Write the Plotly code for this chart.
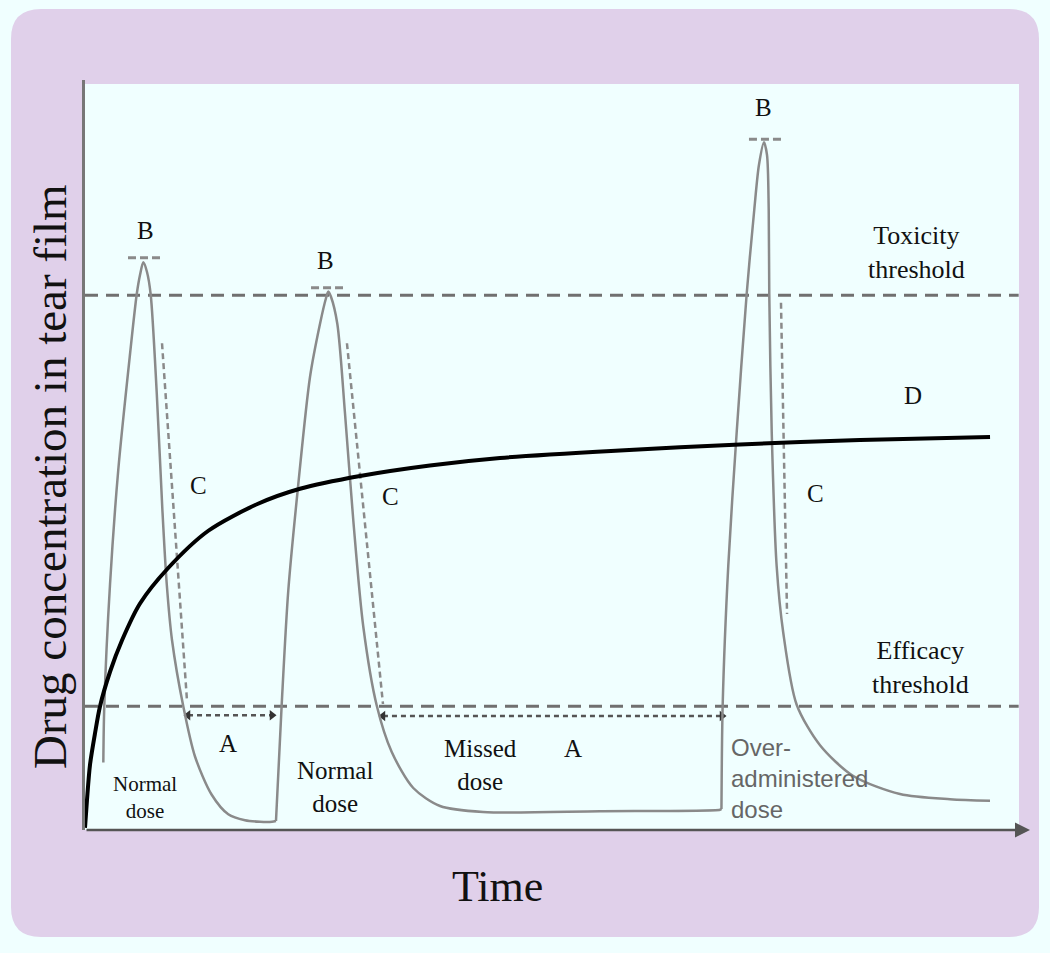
import plotly.graph_objects as go

# ---------------- data (time: arbitrary units 0-100, concentration: arbitrary units 0-100)
conc_time = [1.94, 2.04, 2.65, 3.52, 4.76, 5.47, 5.82, 6.17, 6.56, 6.95, 7.59, 8.18, 8.65, 9.21,
             10.4, 11.64, 13.41, 15.16, 16.93, 18.52, 19.79, 20.21, 20.81, 21.51, 22.57, 23.81,
             24.87, 25.5, 25.75, 26.03, 26.7, 27.51, 28.39, 29.45, 30.87, 32.46, 34.74, 37.57,
             42.12, 54.5, 67.2, 67.35, 67.48, 68.07, 68.96, 70.02, 70.83, 71.32, 71.85, 72.17,
             72.35, 72.41, 72.67, 73.19, 73.89, 75.31, 77.78, 81.3, 86.24, 91.53, 95.77]
conc_level = [9.0, 16.5, 32.8, 48.0, 63.4, 71.4, 74.0, 75.7, 74.4, 71.4, 58.3, 42.9, 32.8, 25.3,
              16.5, 9.8, 4.7, 2.1, 1.3, 1.1, 1.1, 1.2, 16.6, 31.9, 46.1, 60.4,
              67.5, 70.9, 71.8, 71.1, 67.5, 55.6, 41.3, 27.1, 16.6, 10.4, 5.6, 3.2,
              2.4, 2.5, 2.7, 2.8, 16.7, 35.2, 53.0, 71.5, 82.8, 88.7, 91.7, 90.0,
              82.8, 71.5, 53.0, 35.2, 26.3, 16.7, 11.3, 7.2, 4.8, 4.1, 3.9]
# index in conc_* where each dose (instillation) starts
dose_start_idx = [0, 21, 41]

steady_time = [0.0, 0.21, 0.53, 1.06, 1.59, 2.65, 3.92, 5.82, 8.78, 13.05, 18.31, 22.75, 29.1,
               36.5, 43.92, 56.61, 69.31, 82.01, 95.77]
steady_level = [0.3, 4.0, 8.7, 12.9, 16.5, 21.1, 25.3, 30.2, 34.9, 39.9, 43.5, 45.5, 47.2,
                48.6, 49.6, 50.6, 51.4, 52.0, 52.4]

toxicity_level = 71.3
efficacy_level = 16.5
threshold_span = [0.0, 98.8]

# peak markers (B): level and time span of each short dashed bar
peak_levels = [76.3, 72.3, 92.1]
peak_starts = [4.55, 23.92, 70.26]
peak_ends = [8.04, 27.3, 73.76]

# elimination markers (C): start/end of each dotted guide
elim_t0 = [8.15, 27.72, 73.65]
elim_c0 = [64.9, 64.9, 70.3]
elim_t1 = [10.79, 31.53, 74.29]
elim_c1 = [17.3, 16.8, 28.8]

# sub-therapeutic intervals (A)
gap_level = [15.3, 15.2]
gap_start = [10.9, 31.53]
gap_end = [19.79, 67.41]

# label texts
dose_labels = ["Normal<br>dose", "Normal<br>dose", "Missed<br>dose", "Over-<br>administered<br>dose"]

# ---------------- styling
SERIF = "Liberation Serif, Times New Roman, serif"
SANS = "Liberation Sans, Arial, sans-serif"
LAV = "#e0d0ea"
CYAN = "#f0ffff"
GRAY = "#8a8a8a"
DGRAY = "#707070"

W, H = 1050, 953
ML, MR, MT, MB = 85, 20, 80, 123
PW, PH = W - ML - MR, H - MT - MB


def px_x(p):
    return (p - ML) / PW


def px_y(p):
    return (H - MB - p) / PH


fig = go.Figure()

# thresholds
for lvl in (toxicity_level, efficacy_level):
    fig.add_trace(go.Scatter(x=threshold_span, y=[lvl, lvl], mode="lines",
                             line=dict(color=DGRAY, width=3, dash="13px,8px"),
                             hoverinfo="skip", showlegend=False))

# B bars
for lvl, a, b in zip(peak_levels, peak_starts, peak_ends):
    fig.add_trace(go.Scatter(x=[a, b], y=[lvl, lvl], mode="lines",
                             line=dict(color=GRAY, width=3, dash="8px,4px"),
                             hoverinfo="skip", showlegend=False))

# C guides
for t0, c0, t1, c1 in zip(elim_t0, elim_c0, elim_t1, elim_c1):
    fig.add_trace(go.Scatter(x=[t0, t1], y=[c0, c1], mode="lines",
                             line=dict(color=GRAY, width=2.5, dash="6px,4px"),
                             hoverinfo="skip", showlegend=False))

# A arrows
for lvl, a, b in zip(gap_level, gap_start, gap_end):
    fig.add_trace(go.Scatter(x=[a, b], y=[lvl, lvl], mode="lines+markers",
                             line=dict(color="#555555", width=2.5, dash="5px,4px"),
                             marker=dict(symbol=["triangle-left", "triangle-right"], size=9,
                                         color="#333333"),
                             hoverinfo="skip", showlegend=False))

# concentration curve, one smooth piece per dose
bounds = dose_start_idx + [len(conc_time) - 1]
for i in range(len(dose_start_idx)):
    s, e = bounds[i], bounds[i + 1]
    fig.add_trace(go.Scatter(x=conc_time[s:e + 1], y=conc_level[s:e + 1], mode="lines",
                             line=dict(color=GRAY, width=2.5, shape="spline", smoothing=0.8),
                             hoverinfo="skip", showlegend=False))

# steady curve D
fig.add_trace(go.Scatter(x=steady_time, y=steady_level, mode="lines",
                         line=dict(color="black", width=4, shape="spline", smoothing=0.8),
                         hoverinfo="skip", showlegend=False))

# ---------------- background shapes
x0, x1 = px_x(11), px_x(1039)
y0, y1 = px_y(937), px_y(9)
rx, ry = 30 / PW, 30 / PH
path = (f"M {x0+rx},{y1} L {x1-rx},{y1} Q {x1},{y1} {x1},{y1-ry} "
        f"L {x1},{y0+ry} Q {x1},{y0} {x1-rx},{y0} L {x0+rx},{y0} "
        f"Q {x0},{y0} {x0},{y0+ry} L {x0},{y1-ry} Q {x0},{y1} {x0+rx},{y1} Z")
shapes = [
    dict(type="path", xref="paper", yref="paper", path=path,
         fillcolor=LAV, line=dict(width=0), layer="below"),
    dict(type="rect", xref="paper", yref="paper", x0=0, x1=px_x(1019), y0=0, y1=px_y(84),
         fillcolor=CYAN, line=dict(width=0), layer="below"),
]

# ---------------- annotations
ann = []


def txt(x, y, s, size=25, font=SERIF, color="#111111", xanchor="center", align="center"):
    ann.append(dict(x=x, y=y, xref="x", yref="y", text=s, showarrow=False,
                    font=dict(family=font, size=size, color=color),
                    xanchor=xanchor, yanchor="middle", align=align))


txt(6.35, 80.0, "B")
txt(25.5, 75.9, "B")
txt(71.75, 96.4, "B")
txt(12.06, 45.9, "C")
txt(32.38, 44.5, "C")
txt(77.25, 44.9, "C")
txt(87.62, 57.9, "D")
txt(15.13, 11.5, "A")
txt(51.64, 10.9, "A")
txt(6.35, 4.4, dose_labels[0], size=21)
txt(26.46, 5.7, dose_labels[1], size=25)
txt(41.8, 8.7, dose_labels[2], size=25)
txt(68.2, 6.9, dose_labels[3], size=24, font=SANS, color="#666666", xanchor="left", align="left")
txt(87.94, 77.0, "Toxicity<br>threshold", size=26)
txt(88.36, 21.7, "Efficacy<br>threshold", size=26)

# x-axis arrow
ann.append(dict(x=100, y=0, ax=0, ay=0, xref="x", yref="y", axref="x", ayref="y",
                text="", showarrow=True, arrowhead=2, arrowsize=1.2, arrowwidth=2.5,
                arrowcolor="#555555", standoff=0))

# axis titles
ann.append(dict(x=px_x(497), y=px_y(886), xref="paper", yref="paper", text="Time",
                showarrow=False, font=dict(family=SERIF, size=44, color="#111111"),
                xanchor="center", yanchor="middle"))
ann.append(dict(x=px_x(50), y=px_y(477), xref="paper", yref="paper",
                text="Drug concentration in tear film", textangle=-90,
                showarrow=False, font=dict(family=SERIF, size=47, color="#111111"),
                xanchor="center", yanchor="middle"))

fig.update_layout(
    width=W, height=H,
    margin=dict(l=ML, r=MR, t=MT, b=MB, pad=0),
    paper_bgcolor=CYAN, plot_bgcolor="rgba(0,0,0,0)",
    shapes=shapes, annotations=ann, showlegend=False,
    xaxis=dict(range=[0, 100], showgrid=False, zeroline=False, showticklabels=False,
               ticks="", showline=False, fixedrange=True),
    yaxis=dict(range=[0, 100], showgrid=False, zeroline=False, showticklabels=False,
               ticks="", showline=True, linecolor="#777777", linewidth=2.5, fixedrange=True),
)

fig.write_html("out.html",
               config={"displayModeBar": False},
               post_script="document.body.style.margin='0';"
                           "document.body.style.background='" + CYAN + "';")
